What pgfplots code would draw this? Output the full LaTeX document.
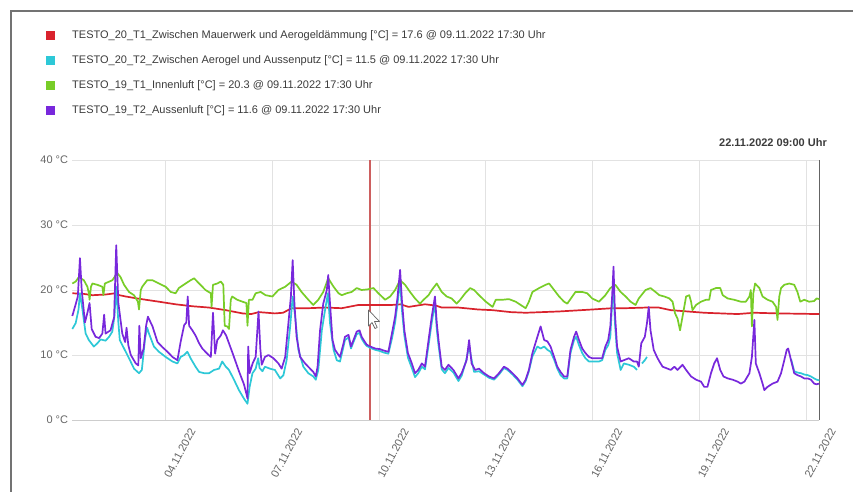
\documentclass[border=0pt]{standalone}
\usepackage{fontspec}
\setmainfont{Liberation Sans}
\usepackage{pgfplots}
\pgfplotsset{compat=1.18}
\definecolor{cRed}{RGB}{217,35,45}
\definecolor{cCyan}{RGB}{45,200,215}
\definecolor{cGreen}{RGB}{120,205,40}
\definecolor{cPurple}{RGB}{120,40,220}
\definecolor{vlineRed}{RGB}{205,95,95}
\definecolor{edgeGray}{RGB}{100,100,100}
\definecolor{frameGray}{RGB}{115,115,115}
\definecolor{gridGray}{RGB}{226,226,226}
\definecolor{axisGray}{RGB}{205,205,205}
\definecolor{tickGray}{RGB}{102,102,102}
\definecolor{legGray}{RGB}{60,60,60}
\begin{document}
\begin{tikzpicture}
\path[use as bounding box] (0pt,0pt) rectangle (853pt,491pt);
\fill[white] (0pt,0pt) rectangle (853pt,491pt);
\draw[line width=2pt, draw=frameGray] (10.7pt,-2pt) -- (10.7pt,480.3pt) -- (856pt,480.3pt);
% legend
\fill[cRed]    (46pt,450.5pt) rectangle ++(9pt,9pt);
\fill[cCyan]   (46pt,425.5pt) rectangle ++(9pt,9pt);
\fill[cGreen]  (46pt,400.5pt) rectangle ++(9pt,9pt);
\fill[cPurple] (46pt,375.5pt) rectangle ++(9pt,9pt);
\begin{scope}[every node/.style={anchor=west, inner sep=0pt, text=legGray, font=\fontsize{11}{13}\selectfont}]
\node at (72pt,455pt) {TESTO\_20\_T1\_Zwischen Mauerwerk und Aerogeldämmung [°C] = 17.6 @ 09.11.2022 17:30 Uhr};
\node at (72pt,430pt) {TESTO\_20\_T2\_Zwischen Aerogel und Aussenputz [°C] = 11.5 @ 09.11.2022 17:30 Uhr};
\node at (72pt,405pt) {TESTO\_19\_T1\_Innenluft [°C] = 20.3 @ 09.11.2022 17:30 Uhr};
\node at (72pt,380pt) {TESTO\_19\_T2\_Aussenluft [°C] = 11.6 @ 09.11.2022 17:30 Uhr};
\end{scope}
\node[anchor=east, inner sep=0pt, text=legGray, font=\bfseries\fontsize{11}{13}\selectfont] at (827pt,348pt) {22.11.2022 09:00 Uhr};
\begin{axis}[
  at={(72.3pt,71pt)}, anchor=south west,
  scale only axis, width=747pt, height=260pt,
  xmin=0.375, xmax=21.375, ymin=0, ymax=40,
  xtick={3,6,9,12,15,18,21},
  xticklabels={04.11.2022,07.11.2022,10.11.2022,13.11.2022,16.11.2022,19.11.2022,22.11.2022},
  ytick={0,10,20,30,40},
  yticklabels={0 °C,10 °C,20 °C,30 °C,40 °C},
  grid=major,
  major grid style={draw=gridGray, line width=0.9pt},
  axis line style={draw=none},
  major tick length=0pt,
  tick label style={font=\fontsize{11}{13}\selectfont, text=tickGray},
  yticklabel style={anchor=east, inner sep=0pt, xshift=-4pt},
  xticklabel style={inner sep=0pt, anchor=east, xshift=27pt, yshift=-9pt, rotate=62},
  clip=false,
  unbounded coords=jump,
  every axis plot/.append style={no markers, line join=round},
]
\addplot[draw=axisGray, line width=1pt] coordinates {(0.375,0) (21.375,0)};
\addplot[draw=vlineRed, line width=2pt] coordinates {(8.73,0) (8.73,40)};
\addplot[draw=edgeGray, line width=1.5pt] coordinates {(21.375,0) (21.375,40)};
% red
\addplot[draw=cRed, line width=1.7pt] coordinates {
(0.375,19.5) (0.7,19.4) (0.94,19.2) (1.3,19.3) (1.59,19.5) (1.7,19.2) (1.88,19.0) (2.2,18.7) (2.44,18.5) (2.81,18.2) (3.28,17.8) (3.75,17.5) (4.22,17.3) (4.69,16.9) (5.16,16.4) (5.4,16.3) (5.62,16.6) (6.07,16.4) (6.3,16.5) (6.54,17.2) (7.01,17.2) (7.48,17.3) (7.95,17.2) (8.42,17.7) (8.89,17.7) (9.36,17.7) (9.6,17.8) (9.83,17.4) (10.29,17.8) (10.6,17.6) (10.76,17.3) (11.23,17.3) (11.79,17.0) (12.19,16.9) (12.7,16.6) (13.12,16.5) (14.06,16.7) (14.99,17.0) (15.55,17.2) (15.93,17.2) (16.5,17.3) (16.86,17.3) (17.20,16.9) (18.14,16.5) (19.08,16.3) (19.55,16.5) (20.20,16.4) (21.375,16.3)
};
% cyan
\addplot[draw=cCyan, line width=1.7pt] coordinates {
(0.375,14.0) (0.47,14.9) (0.55,17.0) (0.59,19.5) (0.66,17.0) (0.75,13.3) (0.84,12.3) (0.98,11.3) (1.08,11.8) (1.17,12.4) (1.31,12.2) (1.41,12.8) (1.50,13.6) (1.56,16.0) (1.61,20.5) (1.67,15.0) (1.71,12.3) (1.83,11.0) (1.97,9.5) (2.11,7.9) (2.25,7.2) (2.33,7.7) (2.42,12.5) (2.48,14.2) (2.53,13.3) (2.67,11.3) (2.81,10.5) (3.00,9.7) (3.19,9.0) (3.33,8.7) (3.42,9.7) (3.52,10.0) (3.61,10.5) (3.70,9.5) (3.84,8.2) (3.94,7.4) (4.08,7.2) (4.22,7.2) (4.36,7.7) (4.50,7.9) (4.59,9.0) (4.69,8.2) (4.78,7.7) (4.92,6.2) (5.06,4.6) (5.20,3.3) (5.30,2.5) (5.36,5.1) (5.44,7.2) (5.53,7.9) (5.60,9.5) (5.64,8.0) (5.72,7.5) (5.79,8.2) (5.93,7.9) (6.07,7.7) (6.22,6.4) (6.31,6.9) (6.40,9.2) (6.50,14.4) (6.57,19.0) (6.64,15.9) (6.73,10.8) (6.87,8.2) (7.01,7.2) (7.15,6.7) (7.22,6.2) (7.29,7.7) (7.39,13.8) (7.48,16.9) (7.56,19.5) (7.62,14.9) (7.72,10.8) (7.81,9.2) (7.90,9.0) (8.00,11.3) (8.04,12.3) (8.14,12.7) (8.21,11.0) (8.28,12.0) (8.37,13.2) (8.45,13.4) (8.51,12.5) (8.59,11.8) (8.65,11.4) (8.75,11.1) (8.89,10.8) (9.03,10.6) (9.12,10.4) (9.26,10.2) (9.36,12.5) (9.45,15.0) (9.52,18.0) (9.59,21.5) (9.64,17.0) (9.71,13.0) (9.81,9.6) (9.92,8.0) (10.01,6.6) (10.10,7.2) (10.20,8.2) (10.29,7.8) (10.39,11.5) (10.48,15.0) (10.57,18.0) (10.62,14.0) (10.67,11.5) (10.76,7.8) (10.85,7.2) (10.95,8.0) (11.09,7.3) (11.23,6.0) (11.32,6.8) (11.44,9.0) (11.53,11.3) (11.61,9.0) (11.67,7.4) (11.81,7.5) (11.95,7.0) (12.09,6.5) (12.23,6.2) (12.37,7.0) (12.51,8.0) (12.61,7.7) (12.75,7.0) (12.89,6.2) (13.03,5.2) (13.12,6.0) (13.21,7.5) (13.31,9.8) (13.45,11.3) (13.54,11.0) (13.64,11.3) (13.73,10.8) (13.82,10.5) (13.92,9.3) (14.01,7.9) (14.10,6.9) (14.20,6.4) (14.29,6.4) (14.38,10.3) (14.48,12.3) (14.54,12.8) (14.62,11.5) (14.71,10.3) (14.80,9.5) (14.90,9.0) (14.99,9.0) (15.08,9.0) (15.18,9.0) (15.27,9.2) (15.36,10.8) (15.44,11.5) (15.50,12.8) (15.55,18.0) (15.59,20.0) (15.63,14.9) (15.69,10.3) (15.79,7.7) (15.88,8.7) (16.02,8.5) (16.16,8.2) (16.25,7.7)
(16.32,nan)
(16.39,8.7) (16.47,9.2) (16.53,9.7)
(16.6,nan)
(20.58,9.4) (20.67,7.5) (20.76,7.3) (20.86,7.2) (20.95,7.0) (21.05,6.9) (21.14,6.7) (21.23,6.4) (21.30,6.2) (21.375,6.1)
};
% green
\addplot[draw=cGreen, line width=1.7pt] coordinates {
(0.375,21.0) (0.47,21.3) (0.56,22.0) (0.70,21.5) (0.80,20.5) (0.84,19.5) (0.86,18.5) (0.90,20.5) (0.94,21.0) (1.08,20.8) (1.22,20.5) (1.25,19.2) (1.29,21.0) (1.50,21.5) (1.64,22.6) (1.73,22.0) (1.83,20.8) (1.97,19.7) (2.11,19.2) (2.22,18.2) (2.25,17.0) (2.30,20.0) (2.34,20.5) (2.48,21.5) (2.63,21.5) (2.81,21.0) (3.00,20.5) (3.14,19.7) (3.28,19.5) (3.37,20.3) (3.56,21.0) (3.70,21.5) (3.80,21.8) (3.94,21.0) (4.12,20.0) (4.27,19.5) (4.29,17.4) (4.33,20.8) (4.45,21.0) (4.55,21.3) (4.62,20.8) (4.66,14.5) (4.73,14.4) (4.78,14.0) (4.83,18.5) (4.87,19.0) (5.01,18.5) (5.16,18.2) (5.27,18.0) (5.30,14.5) (5.34,18.5) (5.44,18.5) (5.53,19.5) (5.67,19.7) (5.81,19.2) (6.00,19.0) (6.17,20.0) (6.36,20.5) (6.54,21.3) (6.68,20.8) (6.82,19.7) (7.01,18.5) (7.15,17.7) (7.29,18.5) (7.43,19.7) (7.57,21.8) (7.72,20.5) (7.86,19.5) (7.95,19.2) (8.09,19.5) (8.23,19.7) (8.37,20.3) (8.51,20.0) (8.68,20.1) (8.84,20.3) (8.98,19.5) (9.17,18.5) (9.31,19.0) (9.45,20.0) (9.59,21.5) (9.73,20.8) (9.87,19.7) (10.01,18.7) (10.15,17.9) (10.25,18.5) (10.39,19.2) (10.48,20.0) (10.62,21.0) (10.76,19.7) (10.90,19.0) (11.04,18.7) (11.18,17.9) (11.28,18.5) (11.42,19.5) (11.56,20.3) (11.67,20.0) (11.81,19.2) (12.00,18.2) (12.19,17.4) (12.28,18.5) (12.47,18.5) (12.65,18.6) (12.84,18.2) (12.98,17.7) (13.12,17.2) (13.21,18.2) (13.31,19.7) (13.50,20.3) (13.68,20.8) (13.78,21.0) (13.92,20.0) (14.06,19.0) (14.20,18.2) (14.29,17.9) (14.43,19.0) (14.52,19.7) (14.71,19.7) (14.85,19.5) (14.99,18.7) (15.18,18.2) (15.36,19.2) (15.50,20.3) (15.64,20.8) (15.79,19.7) (15.93,19.0) (16.07,18.2) (16.21,17.7) (16.30,18.7) (16.49,20.0) (16.63,20.3) (16.77,19.7) (16.88,19.2) (17.02,19.0) (17.16,18.7) (17.25,18.2) (17.32,16.4) (17.39,15.6) (17.46,13.8) (17.53,15.9) (17.63,19.0) (17.72,19.2) (17.77,18.2) (17.81,16.9) (17.91,17.7) (18.05,18.2) (18.19,18.5) (18.28,18.5) (18.33,20.0) (18.47,20.3) (18.59,20.3) (18.66,19.2) (18.80,18.7) (18.98,18.5) (19.17,18.2) (19.31,18.2) (19.41,19.0) (19.45,20.0) (19.48,14.4) (19.52,19.5) (19.57,21.0) (19.69,20.3) (19.78,19.0) (19.92,18.5) (20.06,18.2) (20.16,17.4) (20.20,15.4) (20.25,19.0) (20.30,20.3) (20.39,20.8) (20.53,21.0) (20.67,20.8) (20.76,19.7) (20.84,18.2) (20.95,18.5) (21.09,18.2) (21.23,18.3) (21.30,18.7) (21.375,18.6)
};
% purple
\addplot[draw=cPurple, line width=1.7pt] coordinates {
(0.375,16.0) (0.47,17.8) (0.53,19.0) (0.59,24.9) (0.64,20.0) (0.73,15.0) (0.80,16.5) (0.86,18.0) (0.92,14.0) (1.03,12.8) (1.13,12.6) (1.22,13.3) (1.27,16.2) (1.31,13.3) (1.45,13.8) (1.55,15.8) (1.61,26.9) (1.67,18.0) (1.78,13.3) (1.86,12.0) (1.90,14.2) (1.95,11.5) (2.02,10.0) (2.16,8.7) (2.23,8.4) (2.26,14.5) (2.30,9.5) (2.38,11.0) (2.45,14.5) (2.50,15.9) (2.63,14.4) (2.77,12.0) (2.91,11.2) (3.05,10.5) (3.19,9.7) (3.33,9.2) (3.42,12.0) (3.52,14.6) (3.58,15.0) (3.62,19.0) (3.66,14.5) (3.75,13.8) (3.84,13.0) (3.94,11.8) (4.03,11.0) (4.17,10.2) (4.27,9.7) (4.33,16.5) (4.39,10.2) (4.45,12.3) (4.55,13.0) (4.61,13.8) (4.70,13.0) (4.80,11.5) (4.90,10.0) (5.06,7.5) (5.20,5.5) (5.28,3.8) (5.30,3.3) (5.32,11.3) (5.36,7.2) (5.45,8.8) (5.53,9.7) (5.61,16.7) (5.66,11.0) (5.70,8.5) (5.79,9.7) (5.89,10.0) (6.03,9.5) (6.17,8.7) (6.26,7.9) (6.36,9.7) (6.45,14.9) (6.52,19.0) (6.57,24.6) (6.62,17.9) (6.68,12.8) (6.78,9.7) (6.92,8.7) (7.06,7.9) (7.15,7.4) (7.22,6.7) (7.27,8.2) (7.34,13.8) (7.43,17.9) (7.53,20.0) (7.57,22.3) (7.62,17.9) (7.69,12.3) (7.76,10.8) (7.86,10.0) (7.90,9.7) (8.00,11.8) (8.04,12.8) (8.14,13.1) (8.21,11.3) (8.28,12.3) (8.37,13.6) (8.45,13.8) (8.51,12.8) (8.59,12.1) (8.65,11.6) (8.75,11.3) (8.89,11.0) (9.03,10.9) (9.12,10.7) (9.26,10.5) (9.36,13.3) (9.45,15.9) (9.52,19.0) (9.59,23.1) (9.64,18.5) (9.71,13.8) (9.81,10.3) (9.92,8.7) (10.01,7.2) (10.10,7.7) (10.20,8.7) (10.29,8.2) (10.39,12.3) (10.48,15.9) (10.57,19.0) (10.62,15.0) (10.67,12.3) (10.76,8.2) (10.85,7.7) (10.95,8.5) (11.09,7.7) (11.23,6.4) (11.32,7.2) (11.46,9.2) (11.53,12.3) (11.60,8.7) (11.70,7.7) (11.81,7.9) (11.95,7.2) (12.09,6.7) (12.23,6.4) (12.37,7.2) (12.51,8.2) (12.61,7.9) (12.75,7.2) (12.89,6.4) (13.03,5.4) (13.12,6.2) (13.21,7.7) (13.31,10.3) (13.45,12.8) (13.54,14.4) (13.64,12.3) (13.73,12.1) (13.82,11.3) (13.92,9.7) (14.01,8.2) (14.10,7.4) (14.20,6.7) (14.29,6.7) (14.38,10.8) (14.48,12.8) (14.54,13.6) (14.62,12.3) (14.71,11.0) (14.80,10.3) (14.90,9.7) (14.99,9.5) (15.08,9.5) (15.18,9.5) (15.27,9.5) (15.36,11.3) (15.44,12.3) (15.50,14.4) (15.55,19.0) (15.59,23.6) (15.63,16.4) (15.69,11.3) (15.79,9.0) (15.88,9.2) (16.02,9.5) (16.16,9.0) (16.25,9.0) (16.30,8.2) (16.37,11.8) (16.47,12.8) (16.53,14.9) (16.58,17.4) (16.63,13.8) (16.72,10.8) (16.81,9.7) (16.88,9.0) (16.97,8.2) (17.11,7.9) (17.20,7.7) (17.30,8.2) (17.39,7.7) (17.53,8.5) (17.63,7.7) (17.77,6.7) (17.91,6.2) (18.05,5.9) (18.14,5.1) (18.23,5.1) (18.33,7.2) (18.42,8.7) (18.50,9.5) (18.59,7.7) (18.68,6.7) (18.80,6.4) (18.94,6.2) (19.08,5.9) (19.17,5.6) (19.27,5.9) (19.41,7.2) (19.48,9.7) (19.55,15.4) (19.59,8.7) (19.69,7.2) (19.78,5.6) (19.83,4.6) (19.92,5.1) (20.06,5.6) (20.20,5.9) (20.30,7.2) (20.39,9.2) (20.46,10.8) (20.50,11.0) (20.58,9.2) (20.67,7.2) (20.76,6.9) (20.86,6.7) (20.95,6.4) (21.05,6.4) (21.14,6.2) (21.23,5.6) (21.30,5.5) (21.375,5.6)
};
\end{axis}
% mouse cursor
\draw[fill=white, draw=gray!80!black, line width=0.7pt, line join=round]
  (368.5pt,181pt) -- (368.5pt,165pt) -- (372pt,168.5pt) -- (375pt,162.5pt) -- (377.2pt,163.5pt) -- (374.5pt,169.5pt) -- (379.5pt,169.5pt) -- cycle;
\end{tikzpicture}
\end{document}
